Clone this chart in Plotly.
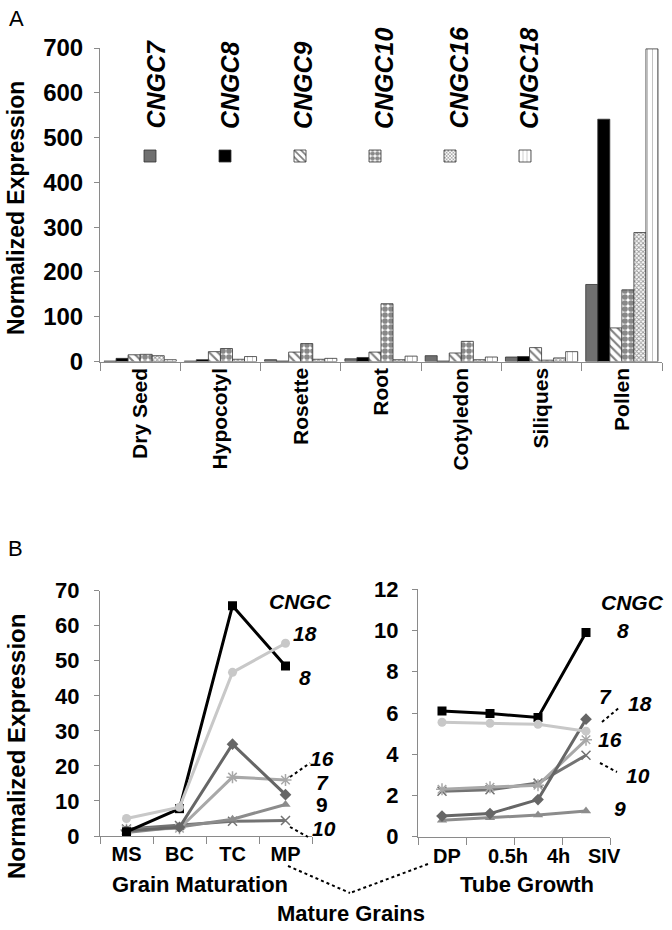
import plotly.graph_objects as go

# ---------------- data ----------------
tissues = ["Dry Seed", "Hypocotyl", "Rosette", "Root", "Cotyledon", "Siliques", "Pollen"]
genes = ["CNGC7", "CNGC8", "CNGC9", "CNGC10", "CNGC16", "CNGC18"]

cngc7_tissue = [1, 1, 4, 6, 13, 10, 172]
cngc8_tissue = [7, 4, 1, 9, 1, 11, 541]
cngc9_tissue = [15, 22, 21, 21, 19, 31, 75]
cngc10_tissue = [16, 29, 40, 129, 45, 3, 160]
cngc16_tissue = [13, 5, 5, 4, 4, 8, 288]
cngc18_tissue = [4, 11, 7, 12, 10, 22, 698]

maturation_stages = ["MS", "BC", "TC", "MP"]
cngc7_maturation = [1.5, 2.5, 26.2, 11.8]
cngc8_maturation = [1.2, 7.8, 65.7, 48.5]
cngc9_maturation = [1.0, 2.6, 4.8, 9.0]
cngc10_maturation = [2.0, 3.0, 4.2, 4.4]
cngc16_maturation = [1.8, 2.2, 16.8, 16.0]
cngc18_maturation = [5.0, 8.2, 46.7, 55.0]

tube_stages = ["DP", "0.5h", "4h", "SIV"]
cngc7_tube = [1.0, 1.12, 1.8, 5.7]
cngc8_tube = [6.1, 5.98, 5.78, 9.9]
cngc9_tube = [0.8, 0.92, 1.05, 1.25]
cngc10_tube = [2.2, 2.28, 2.6, 3.95]
cngc16_tube = [2.3, 2.4, 2.5, 4.7]
cngc18_tube = [5.55, 5.5, 5.45, 5.12]

tissue_values = [cngc7_tissue, cngc8_tissue, cngc9_tissue, cngc10_tissue, cngc16_tissue, cngc18_tissue]
maturation_values = [cngc7_maturation, cngc8_maturation, cngc9_maturation,
                     cngc10_maturation, cngc16_maturation, cngc18_maturation]
tube_values = [cngc7_tube, cngc8_tube, cngc9_tube, cngc10_tube, cngc16_tube, cngc18_tube]

# ---------------- styles ----------------
FONT = "Arial, Liberation Sans, sans-serif"
W, H = 672, 930


def px(x):
    return x / W


def py(y):
    return 1 - y / H


bar_styles = {
    "CNGC7": dict(color="#707070", pattern=dict(shape="")),
    "CNGC8": dict(color="#000000", pattern=dict(shape="")),
    "CNGC9": dict(color="white", pattern=dict(shape="\\", fgcolor="black", bgcolor="white", size=6, solidity=0.35)),
    "CNGC10": dict(color="white", pattern=dict(shape=".", fgcolor="#111111", bgcolor="white", size=6, solidity=0.7)),
    "CNGC16": dict(color="white", pattern=dict(shape="x", fgcolor="#333333", bgcolor="white", size=3, solidity=0.5)),
    "CNGC18": dict(color="white", pattern=dict(shape="|", fgcolor="#888888", bgcolor="white", size=5, solidity=0.2)),
}

line_styles = {
    "CNGC7": dict(color="#666666", symbol="diamond", size=9),
    "CNGC8": dict(color="#000000", symbol="square", size=9),
    "CNGC9": dict(color="#8c8c8c", symbol="triangle-up", size=9),
    "CNGC10": dict(color="#737373", symbol="x-thin-open", size=9),
    "CNGC16": dict(color="#a8a8a8", symbol="asterisk-open", size=10),
    "CNGC18": dict(color="#c8c8c8", symbol="circle", size=9),
}

fig = go.Figure()

# ---- Panel A: bars ----
for g, vals in zip(genes, tissue_values):
    st = bar_styles[g]
    fig.add_trace(go.Bar(
        x=tissues, y=vals, name=g, xaxis="x", yaxis="y",
        marker=dict(color=st["color"], pattern=st["pattern"],
                    line=dict(color="#333333", width=0.8)),
        showlegend=True,
    ))

# ---- Panel B: lines ----
draw_order = ["CNGC10", "CNGC9", "CNGC16", "CNGC7", "CNGC8", "CNGC18"]
for g in draw_order:
    i = genes.index(g)
    st = line_styles[g]
    lw = 1.5 if "open" in st["symbol"] else 0
    for xs, ys, xa, ya in ((maturation_stages, maturation_values[i], "x2", "y2"),
                           (tube_stages, tube_values[i], "x3", "y3")):
        fig.add_trace(go.Scatter(
            x=xs, y=ys, name=g, xaxis=xa, yaxis=ya,
            mode="lines+markers", line=dict(color=st["color"], width=3),
            marker=dict(symbol=st["symbol"], size=st["size"], color=st["color"],
                        line=dict(color=st["color"], width=lw)),
            showlegend=False,
        ))

axis_line = "#8a8a8a"
common_y = dict(showline=True, linecolor=axis_line, linewidth=1, showgrid=False, zeroline=False,
                ticks="outside", ticklen=5, tickcolor=axis_line, automargin=False)
common_x = dict(type="category", showline=True, linecolor=axis_line, linewidth=1, showgrid=False,
                zeroline=False, ticks="outside", tickson="boundaries", tickcolor=axis_line,
                automargin=False)

fig.update_layout(
    width=W, height=H,
    margin=dict(l=0, r=0, t=0, b=0, autoexpand=False),
    paper_bgcolor="white", plot_bgcolor="white",
    barmode="group", bargap=0.1, bargroupgap=0,
    font=dict(family=FONT, color="black"),
    xaxis=dict(common_x, domain=[px(100), px(662)], anchor="y", ticklen=8, tickangle=-90,
               range=[-0.5, 6.5], ticklabelstandoff=-3,
               tickfont=dict(family=FONT, size=21, color="black", weight="bold")),
    yaxis=dict(common_y, domain=[py(361.5), py(48)], anchor="x", range=[0, 700], dtick=100,
               ticklabelstandoff=6,
               tickfont=dict(family=FONT, size=24, color="black", weight="bold")),
    xaxis2=dict(common_x, domain=[px(100), px(312)], anchor="y2", ticklen=7, tickangle=0,
                range=[-0.5, 3.5],
                tickfont=dict(family=FONT, size=20, color="black", weight="bold")),
    yaxis2=dict(common_y, domain=[py(836), py(590.7)], anchor="x2", range=[0, 70], dtick=10,
                ticklabelstandoff=10,
                tickfont=dict(family=FONT, size=22, color="black", weight="bold")),
    xaxis3=dict(common_x, domain=[px(418), px(610)], anchor="y3", ticklen=7,
                range=[-0.5, 3.5], showticklabels=False),
    yaxis3=dict(common_y, domain=[py(836.7), py(589.3)], anchor="x3", range=[0, 12], dtick=2,
                ticklabelstandoff=9,
                tickfont=dict(family=FONT, size=22, color="black", weight="bold")),
    legend=dict(orientation="h", x=px(130), xanchor="left", y=py(156), yanchor="middle",
                entrywidth=30, entrywidthmode="pixels", itemclick=False,
                font=dict(size=10, color="rgba(0,0,0,0)"), bgcolor="rgba(0,0,0,0)",
                tracegroupgap=0),
)

ann = []


def add_text(text, x, y, size, xanchor="center", yanchor="middle", angle=0):
    ann.append(dict(text=text, x=x, y=y, xref="paper", yref="paper", showarrow=False,
                    xanchor=xanchor, yanchor=yanchor, textangle=angle,
                    font=dict(family=FONT, size=size, color="black")))


# panel letters
add_text("A", px(16), py(18), 22)
add_text("B", px(15), py(548), 22)

# y titles
add_text("<b>Normalized Expression</b>", px(16), py(208), 23, angle=-90)
add_text("<b>Normalized Expression</b>", px(16), py(747), 24, angle=-90)

# legend labels (rotated)
legend_x = [155, 230, 303, 384, 458, 529]
for g, lx in zip(genes, legend_x):
    add_text("<b><i>" + g + "</i></b>", px(lx), py(131), 25, yanchor="bottom", angle=-90)

# bottom x titles
add_text("<b>Grain Maturation</b>", px(200), py(884), 22)
add_text("<b>Tube Growth</b>", px(527), py(884), 22)
add_text("<b>Mature Grains</b>", px(351), py(913), 22)

# right panel stage labels (shifted as in the original)
tube_label_offsets = [0.11, 0.38, 0.43, 0.38]
for i, (lab, off) in enumerate(zip(tube_stages, tube_label_offsets)):
    ann.append(dict(text="<b>" + lab + "</b>", x=i + off, y=py(856), xref="x3", yref="paper",
                    showarrow=False, xanchor="center", yanchor="middle",
                    font=dict(family=FONT, size=20, color="black")))

# gene labels, left panel
add_text("<b><i>CNGC</i></b>", px(300), py(601), 21)
add_text("<b><i>18</i></b>", px(305), py(633), 21)
add_text("<b><i>8</i></b>", px(305), py(677), 21)
add_text("<b><i>16</i></b>", px(322), py(758), 21)
add_text("<b><i>7</i></b>", px(322), py(782), 21)
add_text("<b>9</b>", px(322), py(804), 21)
add_text("<b><i>10</i></b>", px(324), py(828), 21)

# gene labels, right panel
add_text("<b><i>CNGC</i></b>", px(632), py(602), 21)
add_text("<b><i>8</i></b>", px(623), py(630), 21)
add_text("<b><i>7</i></b>", px(605), py(696), 21)
add_text("<b><i>18</i></b>", px(640), py(703), 21)
add_text("<b><i>16</i></b>", px(610), py(739), 21)
add_text("<b><i>10</i></b>", px(638), py(775), 21)
add_text("<b><i>9</i></b>", px(620), py(808), 21)

fig.update_layout(annotations=ann)

# dotted leader lines
dots = [
    ((290, 777), (310, 763)),
    ((290, 827), (308, 837)),
    ((602, 722), (620, 707)),
    ((600, 763), (617, 772)),
    ((288, 866), (350, 893)),
    ((428, 864), (350, 893)),
]
shapes = []
for (x0, y0), (x1, y1) in dots:
    shapes.append(dict(type="line", xref="paper", yref="paper",
                       x0=px(x0), y0=py(y0), x1=px(x1), y1=py(y1),
                       line=dict(color="black", width=2, dash="dot")))
fig.update_layout(shapes=shapes)

fig.write_html("out.html", config={"displayModeBar": False},
               post_script="document.body.style.margin='0px';")
